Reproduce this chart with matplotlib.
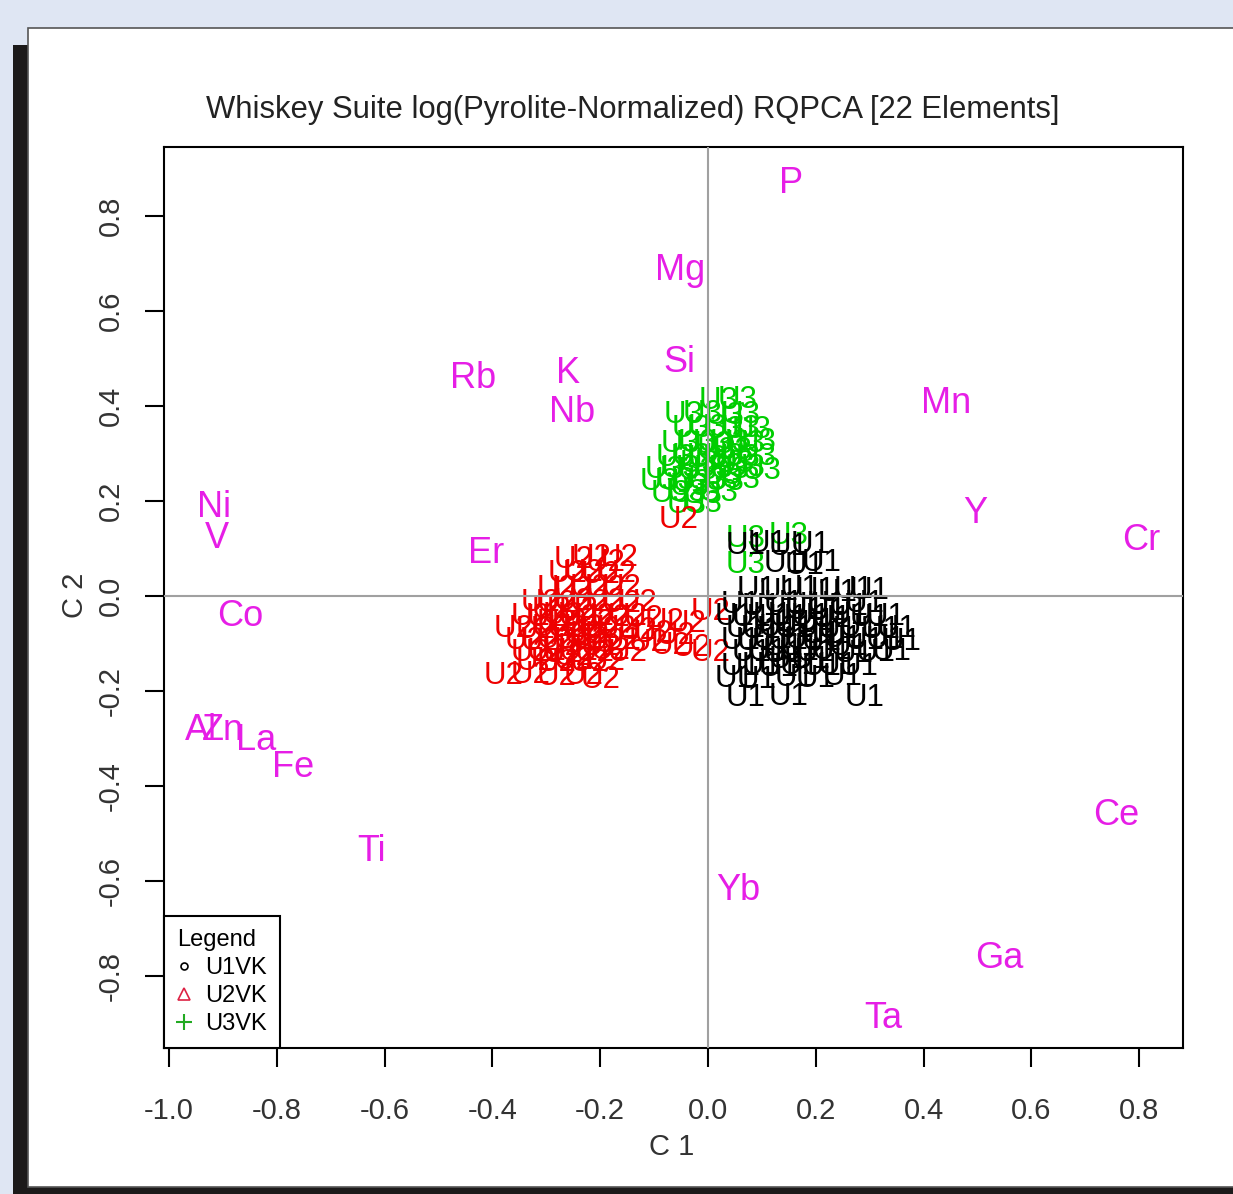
import matplotlib
matplotlib.use("Agg")
import matplotlib.pyplot as plt
from matplotlib.patches import Rectangle
from matplotlib.lines import Line2D

plt.rcParams["font.family"] = ["Liberation Sans", "DejaVu Sans"]

# element loadings (C1, C2)
ELEMENTS = ["P", "Mg", "Si", "Rb", "K", "Nb", "Mn", "Y", "Cr", "Ni", "V",
            "Er", "Co", "Al", "Zn", "La", "Fe", "Ti", "Yb", "Ce", "Ga", "Ta"]
EL_C1 = [0.154, -0.052, -0.054, -0.435, -0.259, -0.252, 0.441, 0.496, 0.804, -0.917, -0.911,
         -0.411, -0.867, -0.941, -0.900, -0.839, -0.769, -0.624, 0.056, 0.757, 0.541, 0.326]
EL_C2 = [0.867, 0.684, 0.491, 0.457, 0.467, 0.385, 0.404, 0.173, 0.116, 0.185, 0.120,
         0.088, -0.044, -0.284, -0.284, -0.305, -0.362, -0.539, -0.621, -0.463, -0.764, -0.891]

# U1VK samples
U1_C1 = [0.07, 0.11, 0.15, 0.19,
         0.14, 0.18, 0.21,
         0.09, 0.13, 0.17, 0.20, 0.24, 0.27, 0.30,
         0.06, 0.10, 0.14, 0.18, 0.22, 0.26, 0.29,
         0.05, 0.08, 0.12, 0.15, 0.19, 0.23, 0.26, 0.30, 0.33,
         0.07, 0.10, 0.13, 0.16, 0.20, 0.24, 0.28, 0.32, 0.35,
         0.06, 0.09, 0.12, 0.15, 0.18, 0.21, 0.25, 0.29, 0.33, 0.36,
         0.08, 0.11, 0.14, 0.17, 0.20, 0.23, 0.27, 0.31, 0.34,
         0.06, 0.10, 0.13, 0.17, 0.21, 0.24, 0.28,
         0.05, 0.09, 0.16, 0.20, 0.25,
         0.07, 0.15, 0.29,
         0.12, 0.16, 0.20, 0.23, 0.17, 0.21, 0.14, 0.18, 0.22, 0.26, 0.19, 0.15]
U1_C2 = [0.105, 0.108, 0.103, 0.106,
         0.066, 0.063, 0.068,
         0.012, 0.008, 0.014, 0.010, 0.006, 0.012, 0.009,
         -0.020, -0.023, -0.018, -0.021, -0.019, -0.024, -0.017,
         -0.045, -0.048, -0.043, -0.046, -0.044, -0.049, -0.042, -0.047, -0.044,
         -0.070, -0.072, -0.068, -0.071, -0.069, -0.073, -0.067, -0.072, -0.070,
         -0.095, -0.097, -0.093, -0.096, -0.094, -0.098, -0.092, -0.096, -0.094, -0.097,
         -0.120, -0.118, -0.122, -0.119, -0.121, -0.117, -0.123, -0.120, -0.118,
         -0.150, -0.148, -0.152, -0.149, -0.151, -0.147, -0.150,
         -0.175, -0.178, -0.173, -0.176, -0.172,
         -0.215, -0.213, -0.216,
         -0.058, -0.060, -0.055, -0.083, -0.108, -0.083, -0.108, -0.033, -0.035, -0.108, -0.135, -0.135]

# U2VK samples
U2_C1 = [-0.25, -0.215, -0.165, -0.19,
         -0.26, -0.23, -0.20, -0.17,
         -0.28, -0.25, -0.22, -0.19, -0.16,
         -0.31, -0.28, -0.25, -0.22, -0.19, -0.16, -0.13,
         -0.33, -0.30, -0.27, -0.24, -0.21, -0.18, -0.15, -0.12, -0.08, -0.04, 0.005,
         -0.36, -0.32, -0.29, -0.26, -0.23, -0.20, -0.17, -0.13, -0.10, -0.06,
         -0.34, -0.31, -0.28, -0.25, -0.22, -0.19, -0.16, -0.11, -0.07, -0.03,
         -0.33, -0.30, -0.27, -0.24, -0.21, -0.18, -0.15, 0.005,
         -0.32, -0.28, -0.25, -0.22, -0.19,
         -0.38, -0.33, -0.28, -0.23, -0.20,
         -0.055,
         -0.29, -0.26, -0.23, -0.20, -0.27, -0.24, -0.21, -0.25, -0.22, -0.28]
U2_C2 = [0.075, 0.080, 0.080, 0.068,
         0.045, 0.047, 0.043, 0.046,
         0.015, 0.013, 0.017, 0.014, 0.016,
         -0.015, -0.017, -0.013, -0.016, -0.014, -0.018, -0.015,
         -0.045, -0.047, -0.043, -0.046, -0.044, -0.048, -0.045, -0.050, -0.055, -0.060, -0.035,
         -0.070, -0.072, -0.068, -0.071, -0.069, -0.073, -0.070, -0.075, -0.080, -0.085,
         -0.095, -0.097, -0.093, -0.096, -0.094, -0.098, -0.095, -0.100, -0.105, -0.110,
         -0.120, -0.118, -0.122, -0.119, -0.121, -0.117, -0.120, -0.120,
         -0.140, -0.142, -0.138, -0.141, -0.139,
         -0.170, -0.168, -0.172, -0.169, -0.178,
         0.160,
         -0.030, -0.058, -0.083, -0.108, -0.108, -0.030, -0.058, -0.130, -0.083, -0.058]

# U3VK samples
U3_C1 = [0.02, 0.055,
         -0.045, -0.01, 0.03, 0.06,
         -0.03, 0.00, 0.03, 0.06, 0.08,
         -0.05, -0.02, 0.01, 0.04, 0.07, 0.09,
         -0.06, -0.03, 0.00, 0.03, 0.06, 0.09,
         -0.08, -0.05, -0.02, 0.01, 0.04, 0.07, 0.10,
         -0.09, -0.06, -0.03, 0.00, 0.03, 0.06,
         -0.07, -0.04, -0.01, 0.02,
         -0.04, -0.01,
         0.07, 0.15, 0.07,
         0.015, 0.045, -0.015, 0.025, 0.05, -0.035]
U3_C2 = [0.410, 0.412,
         0.380, 0.383, 0.378, 0.381,
         0.350, 0.352, 0.348, 0.351, 0.349,
         0.320, 0.322, 0.318, 0.321, 0.319, 0.323,
         0.290, 0.292, 0.288, 0.291, 0.289, 0.293,
         0.265, 0.267, 0.263, 0.266, 0.264, 0.268, 0.262,
         0.240, 0.242, 0.238, 0.241, 0.239, 0.243,
         0.215, 0.217, 0.213, 0.216,
         0.190, 0.192,
         0.120, 0.125, 0.065,
         0.305, 0.305, 0.278, 0.252, 0.278, 0.228]

GROUPS = [("U3", U3_C1, U3_C2, "#00cd00"),
          ("U2", U2_C1, U2_C2, "#ee0000"),
          ("U1", U1_C1, U1_C2, "black")]

W, H = 1233, 1194
fig = plt.figure(figsize=(W / 100, H / 100), dpi=100, facecolor="#dfe6f3")

# window frame: dark shadow + white panel
fig.patches.append(Rectangle((13 / W, 0), 1, (H - 45) / H, transform=fig.transFigure,
                             facecolor="#1c1a1a", edgecolor="none", zorder=0))
fig.patches.append(Rectangle((28 / W, 7 / H), 1, (1187 - 28) / H, transform=fig.transFigure,
                             facecolor="white", edgecolor="#555555", linewidth=1.2, zorder=1))

ax = fig.add_axes([164 / W, (H - 1048) / H, (1183 - 164) / W, (1048 - 147) / H])
ax.set_facecolor("white")
ax.set_zorder(2)

for lab, xs, ys, col in GROUPS:
    for x, y in zip(xs, ys):
        ax.text(x, y, lab, color=col, fontsize=22.5, ha="center", va="center", zorder=3)

for name, x, y in zip(ELEMENTS, EL_C1, EL_C2):
    ax.text(x, y, name, color="#e61ee6", fontsize=26, ha="center", va="center", zorder=5)

ax.axhline(0, color="#a0a0a0", lw=1.5, zorder=4)
ax.axvline(0, color="#a0a0a0", lw=1.5, zorder=4)

ax.set_xlim(-1.0093, 0.8813)
ax.set_ylim(-0.9522, 0.9446)
ax.set_xticks([-1.0, -0.8, -0.6, -0.4, -0.2, 0.0, 0.2, 0.4, 0.6, 0.8])
ax.set_yticks([-0.8, -0.6, -0.4, -0.2, 0.0, 0.2, 0.4, 0.6, 0.8])
ax.xaxis.set_major_formatter(matplotlib.ticker.FormatStrFormatter("%.1f"))
ax.yaxis.set_major_formatter(matplotlib.ticker.FormatStrFormatter("%.1f"))
ax.tick_params(direction="out", length=14, width=1.5, labelsize=21, labelcolor="#333333")
ax.tick_params(axis="x", pad=21)
ax.tick_params(axis="y", pad=14, labelrotation=90)
for t in ax.get_yticklabels():
    t.set_va("center")
for s in ax.spines.values():
    s.set_linewidth(1.5)

fig.text(672 / W, (H - 1147) / H, "C 1", fontsize=21, color="#333333", ha="center", va="center")
fig.text(75 / W, (H - 595) / H, "C 2", fontsize=21, color="#333333", ha="center", va="center",
         rotation=90)
fig.text(633 / W, (H - 110) / H, "Whiskey Suite log(Pyrolite-Normalized) RQPCA [22 Elements]",
         fontsize=22.3, color="#222222", ha="center", va="center")

handles = [Line2D([], [], ls="none", marker="o", ms=5, mfc="none", mec="black", mew=1.2),
           Line2D([], [], ls="none", marker="^", ms=8, mfc="none", mec="#dd2244", mew=1.2),
           Line2D([], [], ls="none", marker="+", ms=12, mec="#22aa22", mew=1.5)]
leg = ax.legend(handles, ["U1VK", "U2VK", "U3VK"], title="Legend", loc="lower left",
                borderaxespad=0, fancybox=False, framealpha=1, edgecolor="black",
                fontsize=17, title_fontsize=17, handlelength=0.6, handletextpad=0.6,
                labelspacing=0.25, borderpad=0.55, alignment="left")
leg.get_frame().set_linewidth(1.5)
leg.set_zorder(6)

fig.savefig("out.png", dpi=100, facecolor=fig.get_facecolor())
